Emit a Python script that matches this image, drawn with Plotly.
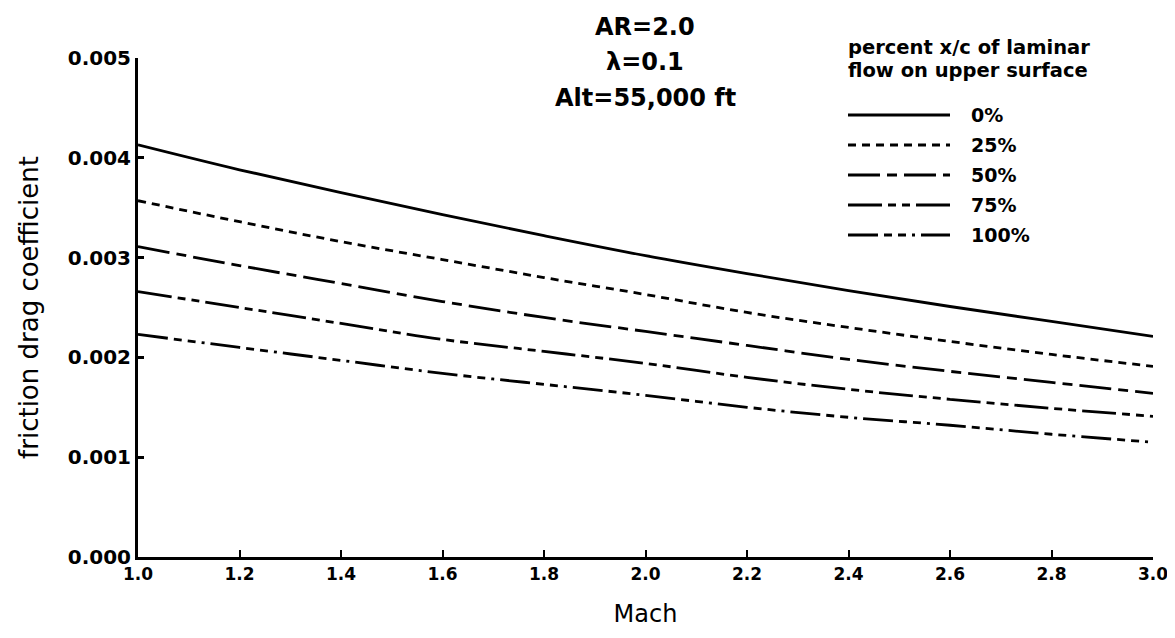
import plotly.graph_objects as go

mach = [1.0, 1.2, 1.4, 1.6, 1.8, 2.0, 2.2, 2.4, 2.6, 2.8, 3.0]
cd_0 = [0.00413, 0.00388, 0.00365, 0.00343, 0.00322, 0.00302, 0.00284, 0.00267, 0.00251, 0.00236, 0.00221]
cd_25 = [0.00357, 0.00336, 0.00316, 0.00298, 0.00280, 0.00263, 0.00245, 0.00230, 0.00216, 0.00203, 0.00191]
cd_50 = [0.00311, 0.00292, 0.00274, 0.00256, 0.00240, 0.00226, 0.00212, 0.00198, 0.00186, 0.00175, 0.00164]
cd_75 = [0.00266, 0.00250, 0.00234, 0.00218, 0.00206, 0.00194, 0.00180, 0.00168, 0.00158, 0.00149, 0.00141]
cd_100 = [0.00223, 0.00210, 0.00197, 0.00184, 0.00173, 0.00162, 0.00150, 0.00140, 0.00132, 0.00123, 0.00115]

series_labels = ["0%", "25%", "50%", "75%", "100%"]
series_values = [cd_0, cd_25, cd_50, cd_75, cd_100]
dashes = [
    "solid",
    "8px,6px",
    "32px,7px,10px,7px",
    "34px,6px,8px,6px,8px,6px",
    "30px,6px,8px,6px,8px,6px,3px,6px",
]

x_ticks = [1.0, 1.2, 1.4, 1.6, 1.8, 2.0, 2.2, 2.4, 2.6, 2.8, 3.0]
x_ticktext = ["1.0", "1.2", "1.4", "1.6", "1.8", "2.0", "2.2", "2.4", "2.6", "2.8", "3.0"]
y_ticks = [0.000, 0.001, 0.002, 0.003, 0.004, 0.005]
y_ticktext = ["0.000", "0.001", "0.002", "0.003", "0.004", "0.005"]

title_lines = ["AR=2.0", "λ=0.1", "Alt=55,000 ft"]
legend_title = ["percent x/c of laminar", "flow on upper surface"]

# page has an 8px body margin; figure placed at (8, 8)
OFF = 8
PAGE_W, PAGE_H = 1175, 638
W, H = PAGE_W - OFF, PAGE_H - OFF
L, R, T, B = 138 - OFF, 22, 58 - OFF, 81
PW, PH = W - L - R, H - T - B


def px(x, y):
    # page pixel -> paper coordinates
    x -= OFF
    y -= OFF
    return (x - L) / PW, (H - B - y) / PH


BOLD = "DejaVu Sans, Liberation Sans, Arial, sans-serif"
REG = "DejaVu Sans, Liberation Sans, Arial, sans-serif"

fig = go.Figure()
for lab, vals, d in zip(series_labels, series_values, dashes):
    fig.add_trace(go.Scatter(x=mach, y=vals, mode="lines", name=lab,
                             line=dict(color="black", width=2.8, dash=d, shape="spline"),
                             showlegend=False))

annotations = []
for i, t in enumerate(title_lines):
    xx, yy = px(645, 27 + 35.5 * i)
    annotations.append(dict(x=xx, y=yy, xref="paper", yref="paper", text=t, showarrow=False,
                            xanchor="center", yanchor="middle",
                            font=dict(family=BOLD, size=24, color="black", weight="bold")))
for i, t in enumerate(legend_title):
    xx, yy = px(846, 47 + 23.5 * i)
    annotations.append(dict(x=xx, y=yy, xref="paper", yref="paper", text=t, showarrow=False,
                            xanchor="left", yanchor="middle",
                            font=dict(family=BOLD, size=19.5, color="black", weight="bold")))

shapes = []
for i, (lab, d) in enumerate(zip(series_labels, dashes)):
    yrow = 115 + 30 * i
    x0, y0 = px(848, yrow)
    x1, _ = px(950, yrow)
    shapes.append(dict(type="line", xref="paper", yref="paper", x0=x0, x1=x1, y0=y0, y1=y0,
                       line=dict(color="black", width=2.8, dash=d)))
    xt, _ = px(969, yrow)
    annotations.append(dict(x=xt, y=y0, xref="paper", yref="paper", text=lab, showarrow=False,
                            xanchor="left", yanchor="middle",
                            font=dict(family=BOLD, size=19, color="black", weight="bold")))

fig.update_layout(
    width=W, height=H,
    margin=dict(l=L, r=R, t=T, b=B, autoexpand=False),
    paper_bgcolor="white", plot_bgcolor="white",
    showlegend=False,
    annotations=annotations,
    shapes=shapes,
    font=dict(family=REG, color="black"),
)
fig.update_xaxes(
    range=[1.0, 3.0], tickvals=x_ticks, ticktext=x_ticktext, automargin=False,
    showgrid=False, zeroline=False, showline=True, linecolor="black", linewidth=3,
    ticks="inside", ticklen=7, tickwidth=2, tickcolor="black",
    tickfont=dict(family=BOLD, size=17, color="black", weight="bold"),
    title=dict(text="Mach", font=dict(family=REG, size=24, color="black"), standoff=22),
)
fig.update_yaxes(
    range=[0.0, 0.005], tickvals=y_ticks, ticktext=y_ticktext, automargin=False,
    showgrid=False, zeroline=False, showline=True, linecolor="black", linewidth=3,
    ticks="inside", ticklen=6, tickwidth=2.5, tickcolor="black",
    tickfont=dict(family=BOLD, size=20, color="black", weight="bold"),
    title=dict(text="friction drag coefficient", font=dict(family=REG, size=26, color="black"), standoff=22),
)

fig.write_html("out.html")
